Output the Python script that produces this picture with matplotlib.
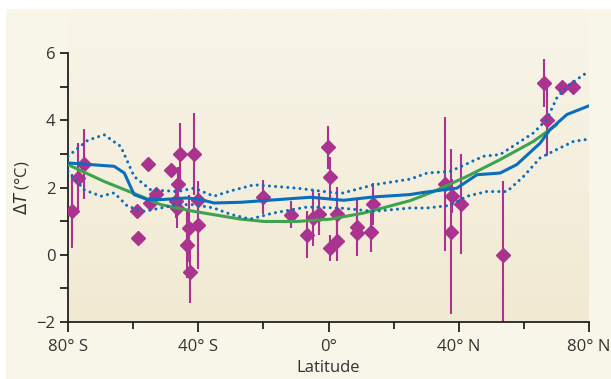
import numpy as np
import matplotlib
matplotlib.use("Agg")
import matplotlib.pyplot as plt
from matplotlib.colors import LinearSegmentedColormap

plt.rcParams['font.family'] = ['Open Sans', 'DejaVu Sans']

# proxy data points: latitude, delta T, error half-width
pt_lat = [-78.8, -77.0, -75.0, -58.8, -58.6, -55.4, -53.0, -54.8, -48.4, -45.6,
          -41.3, -46.2, -46.9, -46.6, -40.2, -40.2, -42.8, -43.5, -42.5,
          -20.0, -11.6, -6.5, -4.7, -3.0, -0.1, 0.6, 2.5, 0.4, 2.5,
          8.6, 8.8, 12.9, 13.7, 35.9, 37.9, 37.6, 40.6, 53.5,
          66.2, 67.0, 71.8, 75.2]
pt_val = [1.29, 2.28, 2.70, 1.29, 0.50, 2.70, 1.82, 1.54, 2.51, 3.00,
          3.00, 2.11, 1.59, 1.39, 1.64, 0.89, 0.79, 0.30, -0.50,
          1.71, 1.19, 0.60, 1.09, 1.21, 3.19, 2.30, 1.21, 0.20, 0.40,
          0.82, 0.65, 0.69, 1.51, 2.11, 1.74, 0.69, 1.51, 0.00,
          5.11, 4.00, 5.00, 4.98]
pt_err = [1.10, 1.05, 1.05, 0.0, 0.0, 0.0, 0.0, 0.0, 0.0, 0.92,
          1.22, 0.50, 0.50, 0.60, 0.40, 1.30, 1.00, 1.00, 0.93,
          0.50, 0.40, 0.70, 0.83, 0.62, 0.63, 0.60, 0.80, 0.40, 0.60,
          0.85, 0.50, 0.62, 0.62, 2.00, 0.50, 2.45, 1.50, 2.20,
          0.72, 1.05, 0.0, 0.0]

# model ensemble mean and spread
mean_lat = [-80, -65.8, -62.7, -59.7, -55.6, -51.5, -43.3, -39.2, -35.2, -27, -19.8,
            -5.5, 4.7, 13.9, 25.1, 28.2, 35.3, 39.4, 45.6, 52.7, 57.8, 65, 68, 73.2, 80]
mean_val = [2.73, 2.63, 2.43, 1.79, 1.64, 1.64, 1.69, 1.64, 1.54, 1.56, 1.61,
            1.71, 1.62, 1.72, 1.79, 1.84, 1.93, 1.98, 2.38, 2.43, 2.68, 3.32, 3.72, 4.17, 4.43]

up_lat = [-80, -74, -68.9, -63.8, -59.7, -54.6, -46.4, -41.3, -35.2, -30, -22.9,
          -9.6, 3.7, 13.9, 25.1, 30.3, 37.4, 47.6, 52.7, 62.9, 67, 70.1, 73.2, 80]
up_val = [2.93, 3.40, 3.57, 3.22, 2.33, 1.93, 1.88, 1.98, 1.74, 1.90, 2.08,
          1.98, 1.82, 2.08, 2.25, 2.43, 2.48, 2.93, 2.98, 3.62, 4.02, 4.66, 5.01, 5.46]

lo_lat = [-80, -75, -69.9, -65.8, -61.7, -56.6, -51.5, -46.4, -41.3, -35.2, -30, -24,
          -17, -6.5, 3.7, 13.9, 25, 30.3, 37.4, 42.5, 48.6, 54.8, 59.9, 65, 70.1, 75.2, 80]
lo_val = [2.48, 1.93, 1.74, 1.84, 1.44, 1.29, 1.39, 1.49, 1.49, 1.39, 1.20, 1.06,
          1.24, 1.42, 1.39, 1.29, 1.39, 1.39, 1.47, 1.74, 1.88, 1.88, 2.33, 2.88, 3.13, 3.37, 3.44]

fit_lat = [-80, -68.9, -57.6, -51.5, -41.3, -27, -19.8, -9.6, 0.6, 10.8,
           25.1, 32.3, 42.5, 52.7, 62.9, 70.1]
fit_val = [2.68, 2.18, 1.74, 1.49, 1.29, 1.06, 0.99, 0.99, 1.06, 1.24,
           1.61, 1.88, 2.33, 2.83, 3.37, 3.87]

xtick_pos = [-80, -40, 0, 40, 80]
xtick_lab = ['80° S', '40° S', '0°', '40° N', '80° N']
ytick_pos = [-2, 0, 2, 4, 6]

purple = '#A9338F'
blue = '#0A6EBD'
green = '#3FA34D'
text_col = '#333333'

W, H = 611, 379
fig = plt.figure(figsize=(W / 100, H / 100), dpi=100)
fig.patch.set_facecolor('white')

# cream panel behind everything
bg = fig.add_axes([6 / W, 0, 1 - 6 / W, 1 - 9 / H])
bg.set_facecolor('#F8F5E9')
bg.set_xticks([])
bg.set_yticks([])
for s in bg.spines.values():
    s.set_visible(False)

# gradient panel behind plot area
gr = fig.add_axes([68 / W, 1 - 322 / H, (589 - 68) / W, (322 - 9) / H])
cmap = LinearSegmentedColormap.from_list('bg', ['#F8F5E9', '#F1E9D2'])
grad = np.linspace(0, 1, 256).reshape(-1, 1)
gr.imshow(grad, aspect='auto', cmap=cmap, extent=[0, 1, 0, 1], origin='upper')
gr.axis('off')

ax = fig.add_axes([68 / W, 1 - 322 / H, (589 - 68) / W, (322 - 53) / H])
ax.patch.set_alpha(0)

ax.errorbar(pt_lat, pt_val, yerr=pt_err, fmt='none', ecolor=purple,
            elinewidth=1.5, capsize=0, zorder=2)
ax.plot(pt_lat, pt_val, 'D', color=purple, ms=7.5, mec=purple, zorder=3)

ax.plot(fit_lat, fit_val, color=green, lw=2.2, zorder=4, solid_capstyle='round')
ax.plot(mean_lat, mean_val, color=blue, lw=2.2, zorder=5, solid_capstyle='round')
ax.plot(up_lat, up_val, color=blue, lw=2.2, ls=(0, (0.01, 2.0)),
        dash_capstyle='round', zorder=5)
ax.plot(lo_lat, lo_val, color=blue, lw=2.2, ls=(0, (0.01, 2.0)),
        dash_capstyle='round', zorder=5)

ax.set_xlim(-80, 80)
ax.set_ylim(-2, 6)
ax.spines['top'].set_visible(False)
ax.spines['right'].set_visible(False)
ax.spines['left'].set_linewidth(1.3)
ax.spines['bottom'].set_linewidth(1.3)
ax.spines['left'].set_color('#222222')
ax.spines['bottom'].set_color('#222222')
ax.spines['left'].set_bounds(-2, 6)

ax.set_xticks(xtick_pos)
ax.set_xticklabels(xtick_lab)
ax.set_xticks([-60, -20, 20, 60], minor=True)
ax.set_yticks(ytick_pos)
ax.set_yticks([-1, 1, 3, 5], minor=True)
ax.tick_params(axis='both', which='both', direction='out', color='#222222',
               width=1.3, labelsize=12, labelcolor=text_col)
ax.tick_params(axis='x', which='major', length=7, pad=5)
ax.tick_params(axis='x', which='minor', length=5)
ax.tick_params(axis='y', which='both', length=6, pad=3)
ax.set_yticklabels(['\u22122', '0', '2', '4', '6'])

ax.set_xlabel('Latitude', fontsize=12, color=text_col, labelpad=4)
ax.set_ylabel(r'$\Delta T$ (°C)', fontsize=12, color=text_col, labelpad=4)

fig.savefig('out.png', dpi=100)
